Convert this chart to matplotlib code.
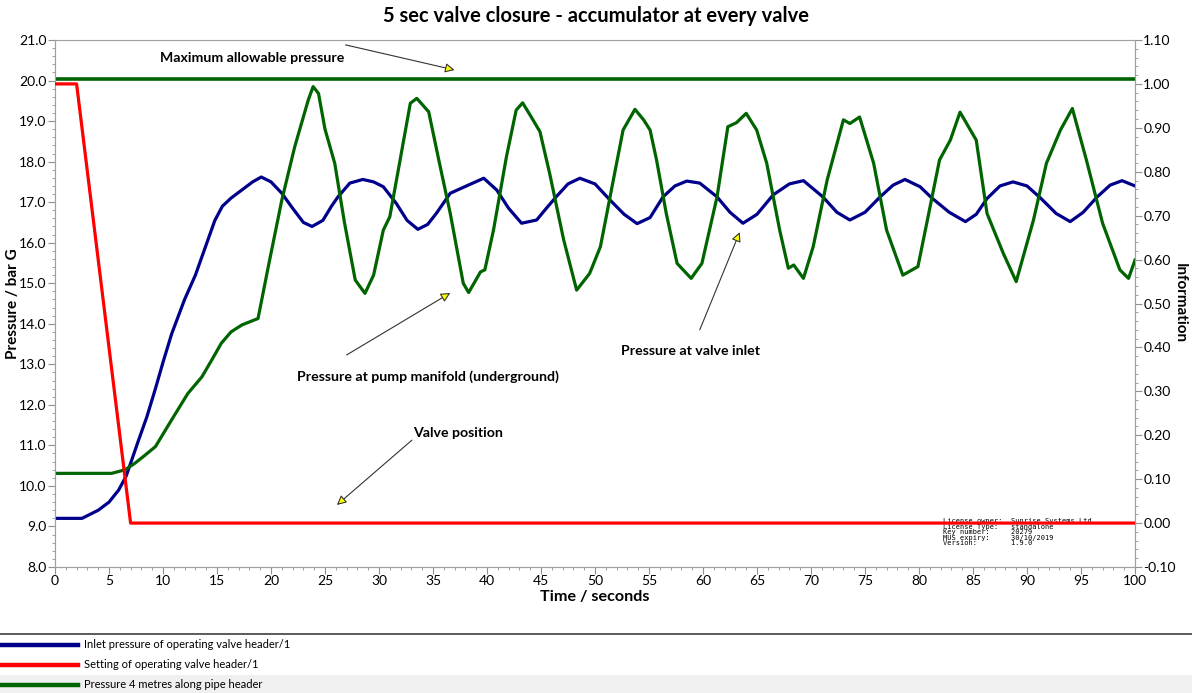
import matplotlib.pyplot as plt
from matplotlib.ticker import MultipleLocator, FormatStrFormatter
from matplotlib.lines import Line2D
from matplotlib.patches import Rectangle

plt.rcParams['font.family'] = ['Lato', 'DejaVu Sans']

# Inlet pressure of operating valve header/1 (bar G)
t_inlet = [0, 2.5, 4.0, 5.0, 5.9, 6.6, 7.7, 8.5, 9.3, 10.0, 10.8, 12.0, 13.0, 14.0,
           14.8, 15.5, 16.3, 17.3, 18.3, 19.1, 20.0, 21.0, 22.0, 23.0, 23.8, 24.8,
           25.6, 26.2, 27.3, 28.5, 29.5, 30.4, 31.6, 32.6, 33.6, 34.5, 35.3, 36.6,
           38.1, 39.7, 40.9, 42.0, 43.2, 44.6, 45.5, 46.4, 47.5, 48.6, 50.0, 51.4,
           52.7, 53.9, 55.1, 56.3, 57.4, 58.5, 59.7, 61.3, 62.5, 63.7, 65.0, 66.5,
           68.0, 69.3, 71.1, 72.4, 73.6, 75.0, 76.4, 77.6, 78.7, 80.1, 81.2, 82.8,
           84.3, 85.3, 86.3, 87.5, 88.7, 90.0, 91.3, 92.7, 94.0, 95.2, 96.5, 97.7,
           98.8, 100.0]
p_inlet = [9.2, 9.2, 9.4, 9.6, 9.9, 10.25, 11.1, 11.7, 12.4, 13.05, 13.75, 14.6,
           15.2, 15.95, 16.55, 16.9, 17.1, 17.3, 17.5, 17.62, 17.5, 17.22, 16.85,
           16.5, 16.4, 16.55, 16.9, 17.13, 17.47, 17.56, 17.5, 17.38, 16.97, 16.55,
           16.33, 16.45, 16.72, 17.22, 17.4, 17.59, 17.3, 16.85, 16.48, 16.56, 16.85,
           17.13, 17.45, 17.59, 17.45, 17.05, 16.7, 16.47, 16.62, 17.13, 17.4, 17.52,
           17.47, 17.13, 16.75, 16.48, 16.7, 17.18, 17.45, 17.53, 17.13, 16.75, 16.56,
           16.75, 17.13, 17.42, 17.56, 17.38, 17.1, 16.75, 16.52, 16.7, 17.09, 17.4,
           17.5, 17.4, 17.09, 16.72, 16.52, 16.75, 17.13, 17.42, 17.53, 17.4]

# Setting of operating valve header/1 (valve position, 0..1)
t_valve = [0, 2.0, 7.0, 100.0]
pos_valve = [1.0, 1.0, 0.0, 0.0]

# Pressure 4 metres along pipe header (bar G)
t_pipe = [0, 5.25, 6.5, 7.4, 8.3, 9.3, 10.8, 12.3, 13.6, 14.5, 15.4, 16.3, 17.3, 18.8,
          19.75, 21.0, 22.2, 23.45, 23.9, 24.4, 25.0, 25.9, 26.8, 27.8, 28.7, 29.5,
          30.4, 31.0, 31.9, 32.9, 33.5, 34.6, 35.6, 36.6, 37.8, 38.3, 39.4, 39.8,
          40.6, 41.8, 42.7, 43.3, 44.1, 44.9, 45.8, 47.1, 48.3, 49.5, 50.5, 51.7,
          52.6, 53.7, 54.5, 55.1, 55.7, 56.6, 57.6, 58.9, 59.9, 61.3, 62.3, 63.1,
          64.0, 64.97, 65.9, 67.1, 67.9, 68.4, 69.3, 70.2, 71.5, 73.0, 73.6, 74.5,
          75.8, 77.0, 78.5, 79.9, 80.9, 81.9, 82.9, 83.8, 85.3, 86.3, 87.8, 89.0,
          90.6, 91.8, 93.1, 94.2, 95.5, 97.0, 98.6, 99.4, 100.0]
p_pipe = [10.31, 10.31, 10.4, 10.56, 10.75, 10.97, 11.63, 12.28, 12.69, 13.1, 13.52,
          13.8, 13.97, 14.13, 15.41, 17.05, 18.37, 19.52, 19.85, 19.68, 18.8, 17.96,
          16.5, 15.08, 14.75, 15.2, 16.31, 16.64, 17.96, 19.44, 19.56, 19.23, 17.96,
          16.72, 15.0, 14.77, 15.28, 15.33, 16.31, 18.12, 19.27, 19.45, 19.1, 18.74,
          17.71, 16.07, 14.83, 15.24, 15.9, 17.55, 18.78, 19.29, 19.03, 18.78, 18.04,
          16.72, 15.49, 15.12, 15.49, 17.13, 18.86, 18.96, 19.19, 18.78, 17.96, 16.31,
          15.37, 15.45, 15.12, 15.9, 17.55, 19.03, 18.94, 19.1, 17.96, 16.31, 15.2,
          15.41, 16.72, 18.04, 18.53, 19.22, 18.53, 16.72, 15.74, 15.04, 16.56, 17.96,
          18.78, 19.31, 18.04, 16.48, 15.33, 15.12, 15.57]

max_allowable = 20.05

legend_labels = ['Inlet pressure of operating valve header/1',
                 'Setting of operating valve header/1',
                 'Pressure 4 metres along pipe header']
line_colors = ['#00008b', '#ff0000', '#006400']

fig = plt.figure(figsize=(11.92, 6.93), dpi=100)
ax = fig.add_axes([55 / 1192, 1 - 567 / 693, 1080 / 1192, 527 / 693])
ax2 = ax.twinx()

ax.axhline(max_allowable, color=line_colors[2], lw=2.6, zorder=3)
ax.plot(t_inlet, p_inlet, color=line_colors[0], lw=2.3, zorder=4)
ax.plot(t_pipe, p_pipe, color=line_colors[2], lw=2.3, zorder=4)
ax2.plot(t_valve, pos_valve, color=line_colors[1], lw=2.3, zorder=4)

ax.set_xlim(0, 100)
ax.set_ylim(8, 21)
ax2.set_ylim(-0.1, 1.1)

ax.xaxis.set_major_locator(MultipleLocator(5))
ax.xaxis.set_minor_locator(MultipleLocator(1))
ax.yaxis.set_major_locator(MultipleLocator(1))
ax.yaxis.set_minor_locator(MultipleLocator(0.2))
ax.yaxis.set_major_formatter(FormatStrFormatter('%.1f'))
ax2.yaxis.set_major_locator(MultipleLocator(0.1))
ax2.yaxis.set_minor_locator(MultipleLocator(0.02))
ax2.yaxis.set_major_formatter(FormatStrFormatter('%.2f'))

for a in (ax, ax2):
    a.tick_params(which='major', direction='out', length=5, color='#909090',
                  labelsize=10, pad=1)
    a.tick_params(which='minor', direction='out', length=2.5, color='#909090')
    for s in a.spines.values():
        s.set_color('#a0a0a0')
ax.spines['top'].set_color('#d8e4d8')

ax.set_xlabel('Time / seconds', fontsize=11.6, fontweight='bold', labelpad=2)
ax.set_ylabel('Pressure / bar G', fontsize=11, fontweight='bold', va='center')
ax.yaxis.set_label_coords(-0.039, 0.5)
ax2.set_ylabel('Information', fontsize=11, fontweight='bold', rotation=270,
               va='center')
ax2.yaxis.set_label_coords(1.0417, 0.5)
fig.text(0.5, 0.977, '5 sec valve closure - accumulator at every valve',
         ha='center', va='center', fontsize=14.5, fontweight='bold')

arrow = dict(arrowstyle='-|>', fc='#ffff00', ec='#333333', lw=0.8,
             mutation_scale=14, shrinkA=0, shrinkB=0)
ax.annotate('', xy=(37.0, 20.26), xytext=(26.9, 20.88), arrowprops=arrow)
ax.text(18.3, 20.56, 'Maximum allowable pressure', ha='center', va='center',
        fontsize=10.2, fontweight='bold')
ax.annotate('', xy=(36.6, 14.76), xytext=(27.0, 13.23), arrowprops=arrow)
ax.text(34.5, 12.69, 'Pressure at pump manifold (underground)', ha='center',
        va='center', fontsize=10.2, fontweight='bold')
ax.annotate('', xy=(63.4, 16.26), xytext=(59.7, 13.85), arrowprops=arrow)
ax.text(58.8, 13.33, 'Pressure at valve inlet', ha='center', va='center',
        fontsize=10.2, fontweight='bold')
ax.annotate('', xy=(26.1, 9.53), xytext=(33.05, 11.13), arrowprops=arrow)
ax.text(37.3, 11.3, 'Valve position', ha='center', va='center',
        fontsize=10.2, fontweight='bold')

licence = ('License owner:  Sunrise Systems Ltd\n'
           'License Type:   standalone\n'
           'Key number:     20279\n'
           'MUS expiry:     30/10/2019\n'
           'Version:        1.9.0')
ax.text(82.2, 9.2, licence, ha='left', va='top', fontsize=5,
        family='DejaVu Sans Mono', linespacing=0.9, zorder=2)

# legend strip below the chart
fig.add_artist(Line2D([0, 1], [1 - 634 / 693] * 2, color='#404040', lw=1.2))
fig.add_artist(Rectangle((0, 0), 1, 18 / 693, color='#f0f0f0', lw=0, zorder=0))
for i, (lab, col) in enumerate(zip(legend_labels, line_colors)):
    y = 1 - (645 + 20 * i) / 693
    fig.add_artist(Line2D([0, 78 / 1192], [y, y], color=col, lw=3.2))
    fig.text(84 / 1192, y, lab, ha='left', va='center', fontsize=8)

fig.savefig('out.png', dpi=100)
